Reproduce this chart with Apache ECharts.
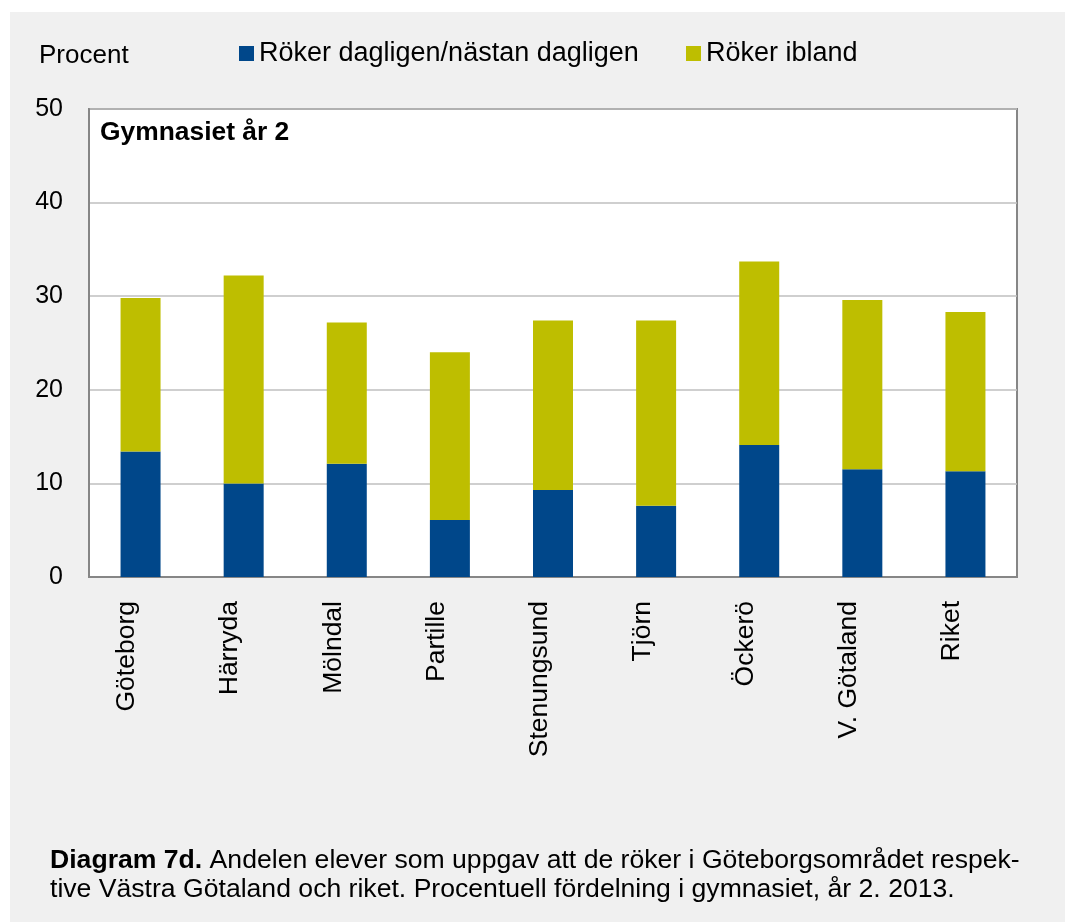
<!DOCTYPE html>
<html>
<head>
<meta charset="utf-8">
<script src="https://cdn.jsdelivr.net/npm/echarts@6/dist/echarts.min.js"></script>
<style>
body { margin: 0; background: #fff; }
#panel { position: absolute; left: 10px; top: 12px; right: 0; bottom: 0; background: #f0f0f0; }
#main { position: absolute; left: 0; top: 0; width: 1065px; height: 922px; }
</style>
</head>
<body>
<div id="panel"></div>
<div id="main"></div>
<script>
// Andel elever som röker, gymnasiet år 2, 2013 (procent)
const kommuner = ["Göteborg", "Härryda", "Mölndal", "Partille", "Stenungsund", "Tjörn", "Öckerö", "V. Götaland", "Riket"];
const dagligen = [13.4, 10.0, 12.1, 6.1, 9.3, 7.6, 14.1, 11.5, 11.3];
const ibland = [16.4, 22.2, 15.1, 17.9, 18.1, 19.8, 19.6, 18.1, 17.0];

const serieNamn = ["Röker dagligen/nästan dagligen", "Röker ibland"];
const FONT = "Arial, 'Liberation Sans', sans-serif";

var myChart = echarts.init(document.getElementById("main"));
var option = {
  backgroundColor: "transparent",
  textStyle: { fontFamily: FONT },
  legend: [
    {
      left: 239, top: 40, padding: 0,
      itemWidth: 15, itemHeight: 15, icon: "rect",
      data: [serieNamn[0]],
      textStyle: { fontSize: 27, color: "#000", fontFamily: FONT },
    },
    {
      left: 686, top: 40, padding: 0,
      itemWidth: 15, itemHeight: 15, icon: "rect",
      data: [serieNamn[1]],
      textStyle: { fontSize: 27, color: "#000", fontFamily: FONT },
    },
  ],
  grid: {
    left: 89, right: 48, top: 109, bottom: 345,
    show: true, backgroundColor: "#fff",
    borderColor: "#868686", borderWidth: 2,
  },
  xAxis: {
    type: "category",
    data: kommuner,
    axisTick: { show: false },
    axisLine: { lineStyle: { color: "#868686", width: 2 } },
    axisLabel: {
      rotate: 90, fontSize: 26.5, color: "#000", margin: 24,
      fontFamily: FONT, verticalAlign: "bottom",
    },
  },
  yAxis: {
    type: "value",
    min: 0, max: 50, interval: 10,
    axisLine: { show: true, lineStyle: { color: "#868686", width: 2 } },
    axisTick: { show: false },
    splitLine: { lineStyle: { color: "#bfbfbf", width: 1.5 } },
    axisLabel: { fontSize: 25, color: "#000", margin: 26, fontFamily: FONT },
  },
  graphic: [
    {
      type: "text", x: 39, y: 56,
      style: { text: "Procent", font: "26px " + FONT, fill: "#000", verticalAlign: "middle" },
    },
    {
      type: "text", x: 100, y: 133,
      style: { text: "Gymnasiet år 2", font: "bold 26.4px " + FONT, fill: "#000", verticalAlign: "middle" },
    },
    {
      type: "text", x: 50, y: 861,
      style: {
        text: "{b|Diagram 7d.} Andelen elever som uppgav att de röker i Göteborgsområdet respek-",
        font: "26.6px " + FONT, fill: "#000", verticalAlign: "middle",
        rich: { b: { fontWeight: "bold", fontSize: 26.6, fontFamily: FONT } },
      },
    },
    {
      type: "text", x: 50, y: 890,
      style: {
        text: "tive Västra Götaland och riket. Procentuell fördelning i gymnasiet, år 2. 2013.",
        font: "26.6px " + FONT, fill: "#000", verticalAlign: "middle",
      },
    },
  ],
  series: [
    {
      name: serieNamn[0],
      type: "bar",
      stack: "rokare",
      barWidth: 40,
      itemStyle: { color: "#00478a" },
      data: dagligen,
    },
    {
      name: serieNamn[1],
      type: "bar",
      stack: "rokare",
      barWidth: 40,
      itemStyle: { color: "#bebe00" },
      data: ibland,
    },
  ],
};
myChart.setOption(option);
</script>
</body>
</html>
